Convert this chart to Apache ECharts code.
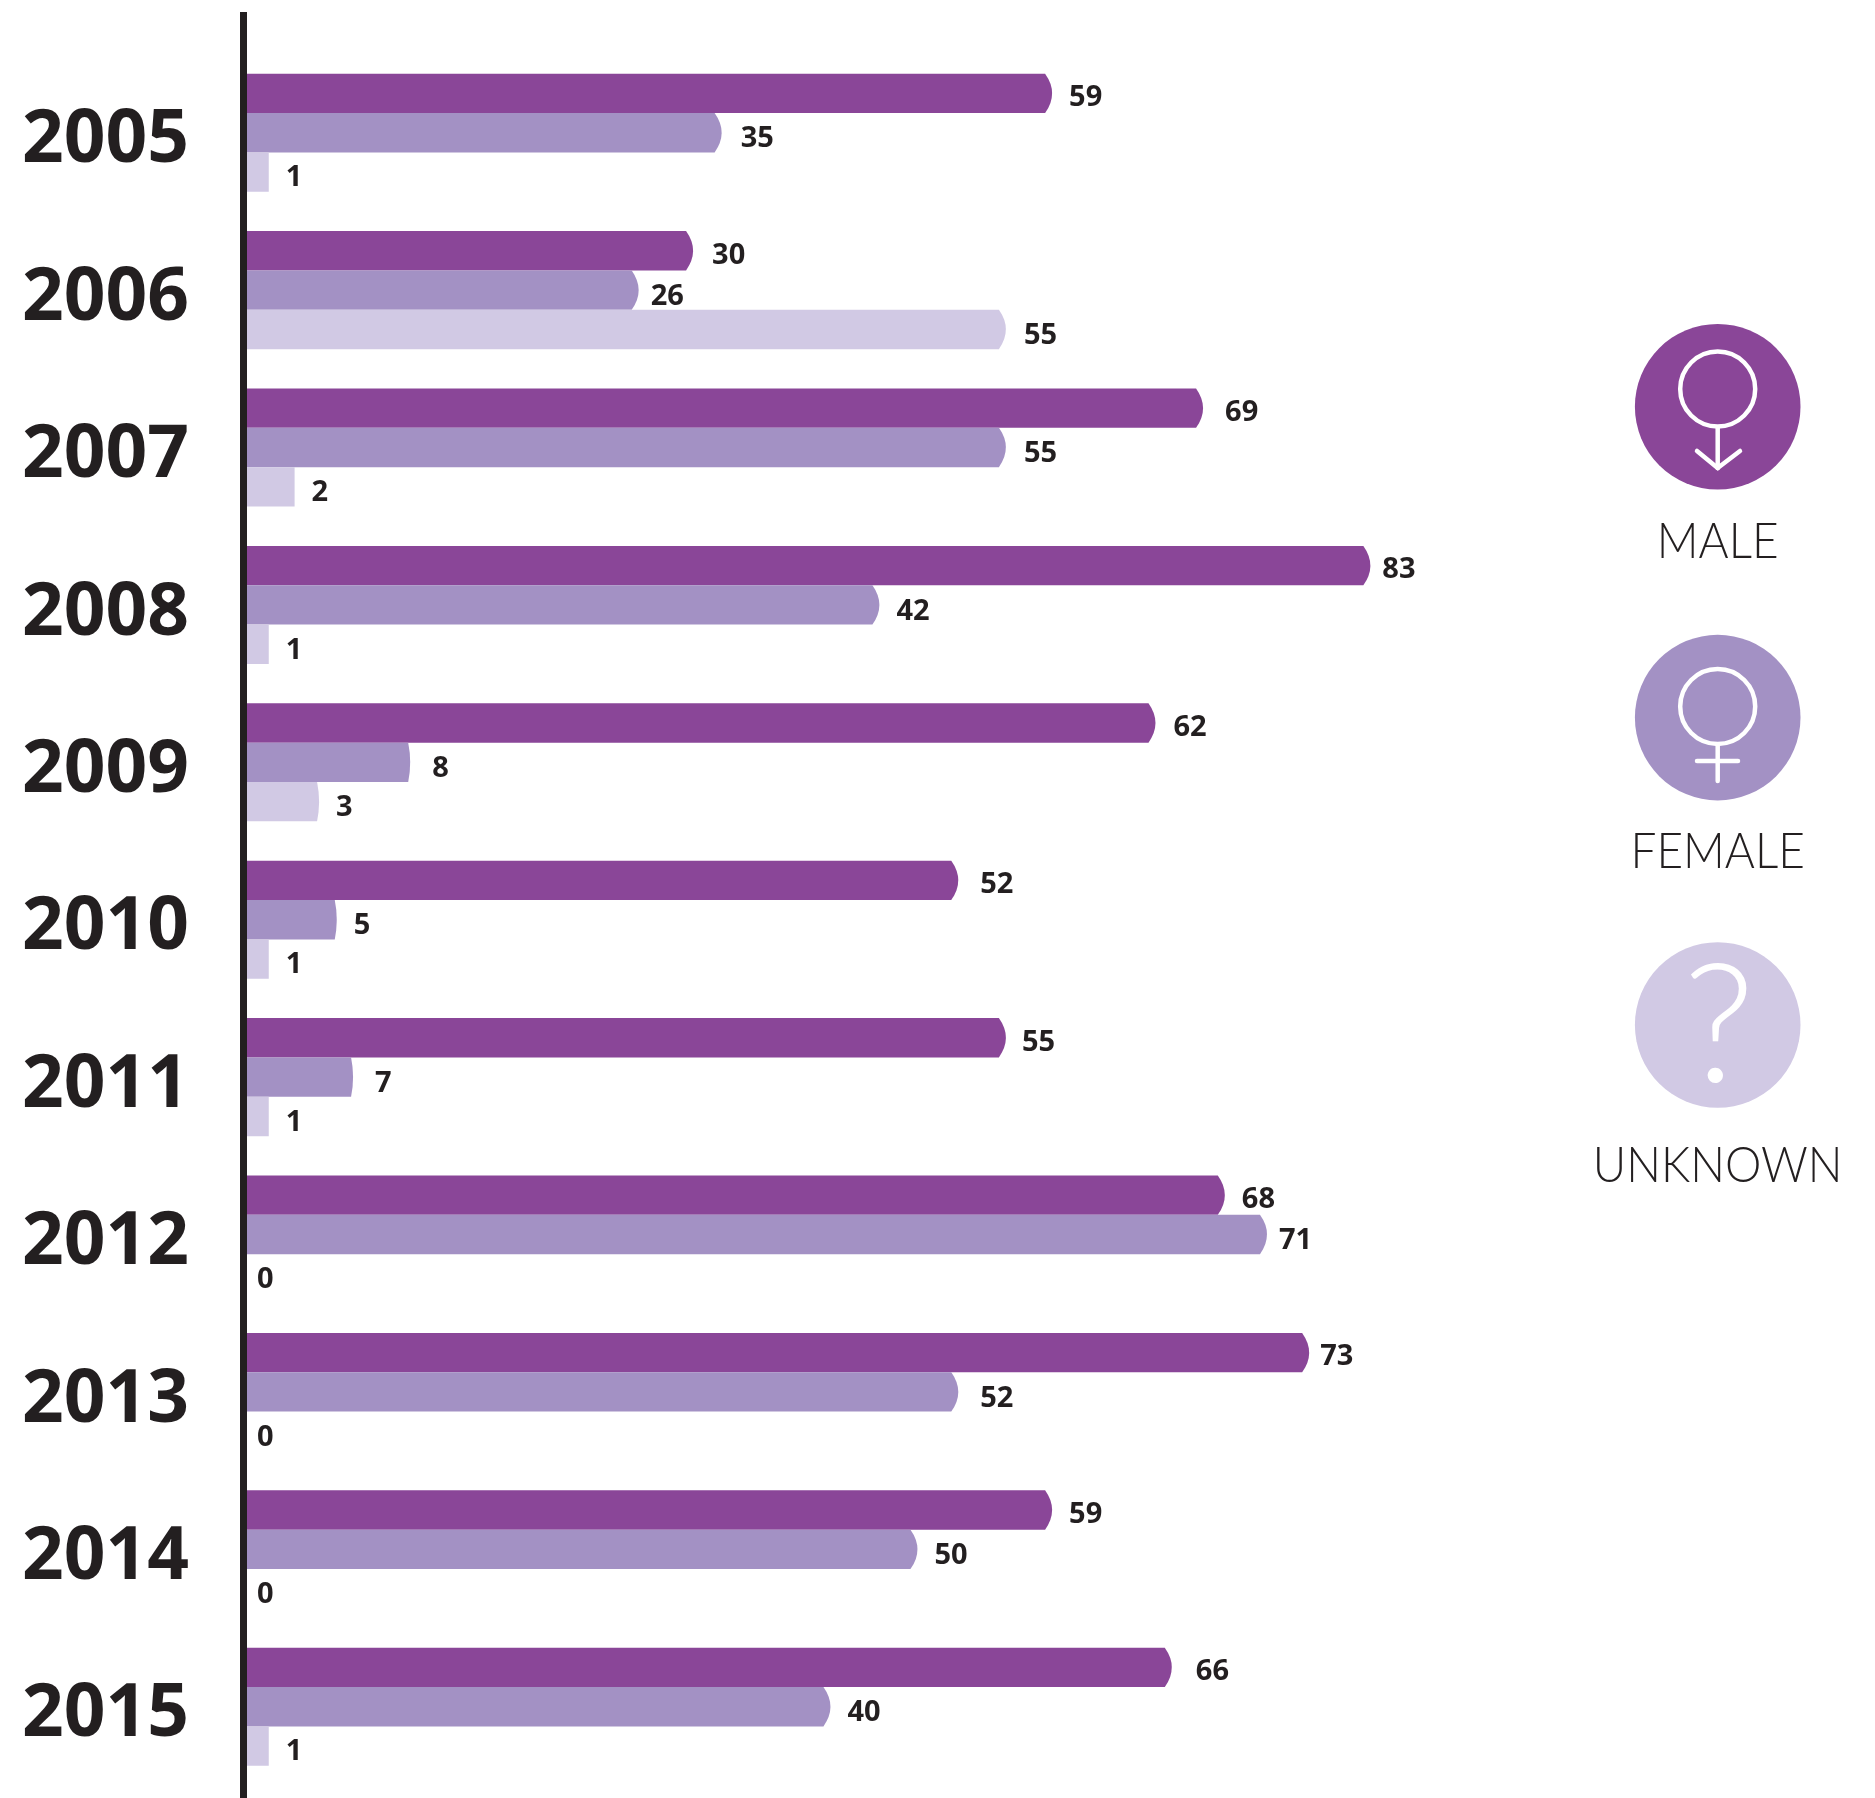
<!DOCTYPE html>
<html>
<head>
<meta charset="utf-8">
<title>Male / female / unknown by year</title>
<style>
    html, body { margin: 0; padding: 0; background: #fff; }
    #chart { width: 1875px; height: 1798px; }
</style>
<script src="https://cdn.jsdelivr.net/npm/echarts@6/dist/echarts.min.js"></script>
</head>
<body>
<div id="chart"></div>
<script>
var years = ['2005', '2006', '2007', '2008', '2009', '2010', '2011', '2012', '2013', '2014', '2015'];

// numbers printed next to the bars
var maleLabels = [59, 30, 69, 83, 62, 52, 55, 68, 73, 59, 66];
var femaleLabels = [35, 26, 55, 42, 8, 5, 7, 71, 52, 50, 40];
var unknownLabels = [1, 55, 2, 1, 3, 1, 1, 0, 0, 0, 1];

// bar lengths as measured on the picture (the original is not drawn to scale with its numbers)
var maleLengths = [59.2, 32.8, 70.3, 82.6, 66.8, 52.3, 55.8, 71.9, 78.1, 59.2, 68];
var femaleLengths = [34.9, 28.8, 55.8, 46.5, 12, 6.6, 7.8, 75, 52.3, 49.3, 42.9];
var unknownLengths = [1.6, 55.8, 3.5, 1.6, 5.3, 1.6, 1.6, 0, 0, 0, 1.6];

var legendNames = ['MALE', 'FEMALE', 'UNKNOWN'];

(function () {
    var myChart = echarts.init(document.querySelector('#chart'));

    var MALE = '#8a4698';
    var FEMALE = '#a391c4';
    var UNKNOWN = '#d1c9e4';
    var INK = '#231f20';

    // the original labels were placed by hand, gap in px from the bar end
    var maleGaps = [17, 19, 22, 12, 18, 22, 16, 17, 11, 17, 24];
    var femaleGaps = [19, 12, 18, 17, 22, 17, 22, 12, 22, 17, 17];
    var unknownGaps = [17, 18, 17, 17, 17, 17, 17, 10, 10, 10, 17];

    // one series per gender, slot = position of the bar inside a year group
    function makeSeries(name, lengths, labels, gaps, color, slot, labelShift) {
        return {
            name: name,
            type: 'custom',
            encode: { x: 0, y: 1 },
            data: lengths.map(function (len, i) {
                return [len, i, labels[i]];
            }),
            renderItem: function (params, api) {
                var end = api.coord([api.value(0), api.value(1)]);
                var start = api.coord([0, api.value(1)]);
                var band = api.size([0, 1])[1];
                var h = band * 0.25;
                var top = end[1] - h * 1.5 + h * slot;
                var w = end[0] - start[0];
                // short bars are flat, longer ones get the bulged tip
                var d = w < 60 ? 0 : (w < 200 ? 2 : 7);
                var children = [];
                if (w > 0) {
                    children.push({
                        type: 'path',
                        shape: {
                            pathData: 'M0 0L' + (w - d) + ' 0Q' + (w + d) + ' ' + (h / 2) + ' ' + (w - d) + ' ' + h + 'L0 ' + h + 'Z',
                            x: start[0],
                            y: top,
                            width: w,
                            height: h
                        },
                        layout: 'cover',
                        style: { fill: color }
                    });
                }
                children.push({
                    type: 'text',
                    style: {
                        text: String(api.value(2)),
                        x: end[0] + gaps[params.dataIndex],
                        y: top + h / 2 + labelShift,
                        fill: INK,
                        font: 'bold 29px "Open Sans"',
                        verticalAlign: 'middle'
                    }
                });
                return { type: 'group', children: children };
            }
        };
    }

    function circle(cy, color) {
        return { type: 'circle', shape: { cx: 1717.7, cy: cy, r: 82.8 }, style: { fill: color } };
    }

    function whiteLine(x1, y1, x2, y2) {
        return {
            type: 'line',
            shape: { x1: x1, y1: y1, x2: x2, y2: y2 },
            style: { stroke: '#fff', lineWidth: 4.5, lineCap: 'round' }
        };
    }

    function ring(cy) {
        return {
            type: 'circle',
            shape: { cx: 1717.7, cy: cy, r: 37.5 },
            style: { fill: null, stroke: '#fff', lineWidth: 4.5 }
        };
    }

    // Lato Light is a little wider than the original face
    function legendText(name, cy) {
        return {
            type: 'text',
            x: 1717.7,
            y: cy,
            scaleX: 0.92,
            style: {
                text: name,
                fill: INK,
                font: '300 50px Lato',
                align: 'center',
                verticalAlign: 'middle'
            }
        };
    }

    var option = {
        animation: false,
        grid: { left: 247, top: 54, width: 1156, height: 1731.4 },
        xAxis: { type: 'value', min: 0, max: 85, show: false },
        yAxis: {
            type: 'category',
            inverse: true,
            data: years,
            axisLine: { show: false },
            axisTick: { show: false },
            axisLabel: {
                align: 'left',
                margin: 225,
                color: INK,
                fontFamily: 'Open Sans',
                fontWeight: 'bold',
                fontSize: 73,
                // top + short line box pushes the years a bit below the band centre
                verticalAlign: 'top',
                lineHeight: 18
            }
        },
        series: [
            makeSeries('Male', maleLengths, maleLabels, maleGaps, MALE, 0, 4.5),
            makeSeries('Female', femaleLengths, femaleLabels, femaleGaps, FEMALE, 1, 6.5),
            makeSeries('Unknown', unknownLengths, unknownLabels, unknownGaps, UNKNOWN, 2, 6)
        ],
        graphic: [
            // the vertical rule runs past the grid on both ends
            { type: 'rect', shape: { x: 240, y: 12, width: 7, height: 1786 }, style: { fill: INK } },

            circle(406.7, MALE),
            ring(389),
            whiteLine(1717.7, 428, 1717.7, 468),
            whiteLine(1697, 451, 1717.7, 468),
            whiteLine(1740, 451, 1717.7, 468),
            legendText(legendNames[0], 542),

            circle(717.6, FEMALE),
            ring(706.5),
            whiteLine(1717.7, 745, 1717.7, 781),
            whiteLine(1697, 761, 1738, 761),
            legendText(legendNames[1], 852),

            circle(1025, UNKNOWN),
            {
                type: 'text',
                style: {
                    text: '?',
                    x: 1719,
                    y: 1029,
                    fill: '#fff',
                    font: '300 165px Lato',
                    align: 'center',
                    verticalAlign: 'middle'
                }
            },
            legendText(legendNames[2], 1166)
        ]
    };

    myChart.setOption(option);
    window.addEventListener('resize', function () {
        myChart.resize();
    });
})();
</script>
</body>
</html>
